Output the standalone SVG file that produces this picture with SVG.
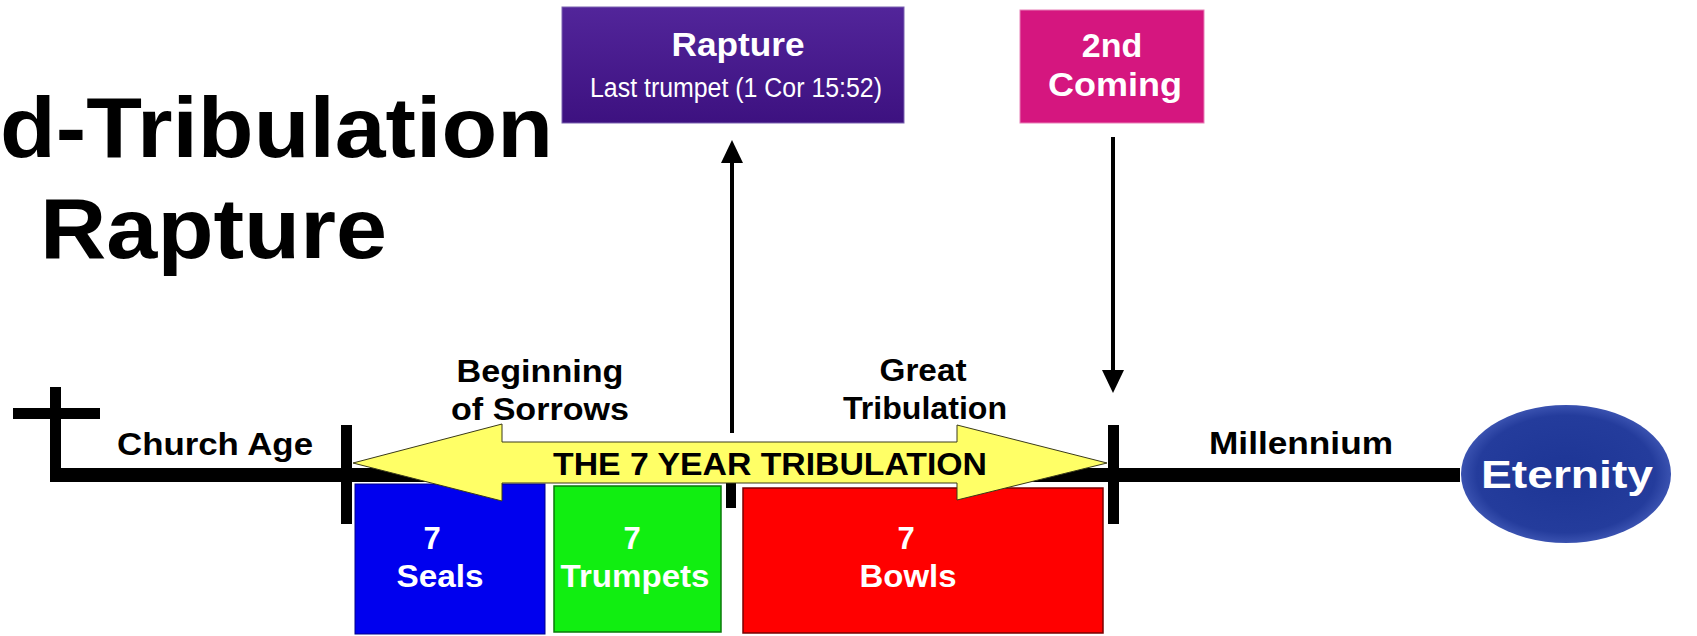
<svg xmlns="http://www.w3.org/2000/svg" width="1697" height="636" viewBox="0 0 1697 636">
<defs>
<style>
.lbl{font-family:"Liberation Sans",Arial,sans-serif;font-weight:bold;font-size:31px;fill:#000;text-anchor:middle}
.wt{font-family:"Liberation Sans",Arial,sans-serif;font-weight:bold;font-size:31px;fill:#fff;text-anchor:middle}
.title{font-family:"Liberation Sans",Arial,sans-serif;font-weight:bold;font-size:85px;fill:#000}
.bar{fill:#000}
.conn{stroke:#000;stroke-width:4;fill:none}
</style>
<marker id="ah" viewBox="0 0 23 22" refX="0" refY="11" markerWidth="23" markerHeight="22" markerUnits="userSpaceOnUse" orient="auto">
<path d="M0,0 L23,11 L0,22 z" fill="#000"/>
</marker>
<linearGradient id="gPurple" x1="0" y1="0" x2="0" y2="1">
<stop offset="0" stop-color="#52259a"/>
<stop offset="1" stop-color="#3d1180"/>
</linearGradient>
<radialGradient id="gEll" cx="0.5" cy="0.5" r="0.5">
<stop offset="0" stop-color="#1d3595"/>
<stop offset="0.85" stop-color="#243c9c"/>
<stop offset="1" stop-color="#3a52b0"/>
</radialGradient>
</defs>
<rect width="1697" height="636" fill="#fff"/>

<g id="title">
<text class="title" x="0" y="157" textLength="553" lengthAdjust="spacingAndGlyphs">d-Tribulation</text>
<text class="title" x="40" y="258" textLength="347" lengthAdjust="spacingAndGlyphs">Rapture</text>
</g>

<g id="timeline">
<rect class="bar" x="50" y="387" width="11" height="95"/>
<rect class="bar" x="13" y="408" width="87" height="11"/>
<rect class="bar" x="50" y="468" width="1410" height="14"/>
<rect class="bar" x="341" y="425" width="11" height="99"/>
<rect class="bar" x="1108" y="425" width="11" height="99"/>
<rect class="bar" x="726" y="483" width="10" height="25"/>
</g>

<g id="seals">
<rect x="355" y="484" width="190" height="150" fill="#0000ee" stroke="#00008a" stroke-width="1"/>
<text class="wt" x="432" y="549">7</text>
<text class="wt" x="440" y="587" textLength="87" lengthAdjust="spacingAndGlyphs">Seals</text>
</g>

<g id="trumpets">
<rect x="554" y="486" width="167" height="146" fill="#11ee11" stroke="#0a7a0a" stroke-width="1.5"/>
<text class="wt" x="632" y="549" fill="#f0fff0">7</text>
<text class="wt" x="635" y="587" textLength="149" lengthAdjust="spacingAndGlyphs">Trumpets</text>
</g>

<g id="bowls">
<rect x="743" y="488" width="360" height="145" fill="#ff0000" stroke="#7a0000" stroke-width="1.5"/>
<text class="wt" x="906" y="549">7</text>
<text class="wt" x="908" y="587" textLength="97" lengthAdjust="spacingAndGlyphs">Bowls</text>
</g>

<g id="tribulation-arrow">
<path d="M353,463 L502,424 L502,442 L957,442 L957,425 L1107,463 L957,500 L957,483 L502,483 L502,501 Z" fill="#ffff66" stroke="#3a3a1a" stroke-width="1"/>
<text class="lbl" x="770" y="475" style="font-size:32px" textLength="434" lengthAdjust="spacingAndGlyphs">THE 7 YEAR TRIBULATION</text>
</g>

<g id="labels">
<text class="lbl" x="215" y="455" textLength="196" lengthAdjust="spacingAndGlyphs">Church Age</text>
<text class="lbl" x="540" y="382" textLength="167" lengthAdjust="spacingAndGlyphs">Beginning</text>
<text class="lbl" x="540" y="420" textLength="178" lengthAdjust="spacingAndGlyphs">of Sorrows</text>
<text class="lbl" x="923" y="381" textLength="87" lengthAdjust="spacingAndGlyphs">Great</text>
<text class="lbl" x="925" y="419" textLength="164" lengthAdjust="spacingAndGlyphs">Tribulation</text>
<text class="lbl" x="1301" y="454" textLength="184" lengthAdjust="spacingAndGlyphs">Millennium</text>
</g>

<g id="rapture">
<rect x="562" y="7" width="342" height="116" fill="url(#gPurple)" stroke="#7a62b0" stroke-width="1"/>
<text class="wt" x="738" y="56" style="font-size:34px" textLength="133" lengthAdjust="spacingAndGlyphs">Rapture</text>
<text x="736" y="97" text-anchor="middle" font-family="Liberation Sans, Arial, sans-serif" font-size="27" fill="#fff" textLength="292" lengthAdjust="spacingAndGlyphs">Last trumpet (1 Cor 15:52)</text>
</g>

<g id="second-coming">
<rect x="1020" y="10" width="184" height="113" fill="#d5167f" stroke="#e880b8" stroke-width="1"/>
<text class="wt" x="1112" y="57" style="font-size:34px">2nd</text>
<text class="wt" x="1115" y="96" style="font-size:34px" textLength="134" lengthAdjust="spacingAndGlyphs">Coming</text>
</g>

<g id="eternity">
<ellipse cx="1566" cy="474" rx="105" ry="69" fill="url(#gEll)"/>
<text class="wt" x="1567" y="488" style="font-size:38px" textLength="172" lengthAdjust="spacingAndGlyphs">Eternity</text>
</g>

<g id="connectors">
<line class="conn" x1="732" y1="433" x2="732" y2="163" marker-end="url(#ah)"/>
<line class="conn" x1="1113" y1="137" x2="1113" y2="370" marker-end="url(#ah)"/>
</g>
</svg>
